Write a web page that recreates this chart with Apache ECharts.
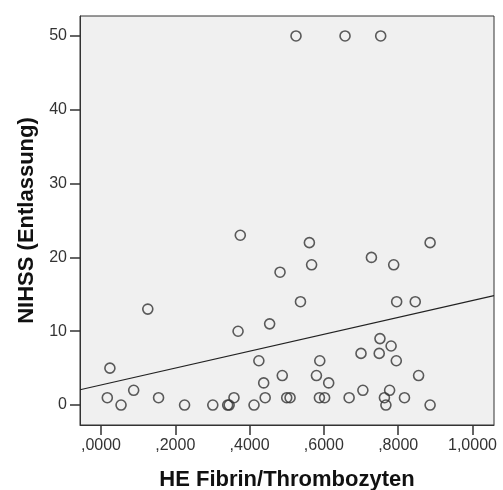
<!DOCTYPE html>
<html>
<head>
<meta charset="utf-8">
<script src="https://cdn.jsdelivr.net/npm/echarts@6/dist/echarts.min.js"></script>
<style>
  html, body { margin: 0; padding: 0; background: #fff; }
  #chart { width: 503px; height: 490px; }
</style>
</head>
<body>
<div id="chart"></div>
<script>
// HE Fibrin/Thrombozyten (x) und NIHSS bei Entlassung (y)
var fibrin = [
  0.525, 0.657, 0.753, 0.375, 0.561, 0.886, 0.728, 0.567, 0.788, 0.482,
  0.537, 0.796, 0.846, 0.126, 0.454, 0.369, 0.751, 0.781, 0.700, 0.749,
  0.425, 0.589, 0.795, 0.024, 0.488, 0.580, 0.855, 0.438, 0.613, 0.088,
  0.705, 0.777, 0.017, 0.155, 0.358, 0.442, 0.500, 0.509, 0.588, 0.602,
  0.668, 0.763, 0.817, 0.054, 0.225, 0.301, 0.341, 0.345, 0.412, 0.767,
  0.886
];
var nihss = [
  50, 50, 50, 23, 22, 22, 20, 19, 19, 18,
  14, 14, 14, 13, 11, 10, 9, 8, 7, 7,
  6, 6, 6, 5, 4, 4, 4, 3, 3, 2,
  2, 2, 1, 1, 1, 1, 1, 1, 1, 1,
  1, 1, 1, 0, 0, 0, 0, 0, 0, 0,
  0
];
// Regressionsgerade
var fitIntercept = 2.72;
var fitSlope = 11.44;

// Achsen
var xMin = -0.0565, xMax = 1.058;
var yMin = -2.7, yMax = 52.7;
var xTicks = [0, 0.2, 0.4, 0.6, 0.8, 1.0];
var xTickLabels = [",0000", ",2000", ",4000", ",6000", ",8000", "1,0000"];
var yTicks = [0, 10, 20, 30, 40, 50];

var points = [];
for (var i = 0; i < fibrin.length; i++) {
  points.push([fibrin[i], nihss[i]]);
}
var fitLine = [
  [xMin, fitIntercept + fitSlope * xMin],
  [xMax, fitIntercept + fitSlope * xMax]
];

var textColor = "#333";
var font = "Liberation Sans, Arial, sans-serif";

var myChart = echarts.init(document.getElementById("chart"), null, { renderer: "canvas" });
var option = {
  animation: false,
  backgroundColor: "#fff",
  grid: {
    left: 80,
    right: 9,
    top: 16,
    bottom: 65,
    show: true,
    backgroundColor: "#f0f0f0",
    borderColor: "#333",
    borderWidth: 1,
    outerBoundsMode: "none"
  },
  xAxis: {
    type: "value",
    min: xMin,
    max: xMax,
    name: "HE Fibrin/Thrombozyten",
    nameLocation: "middle",
    nameGap: 44,
    nameTextStyle: { fontFamily: font, fontSize: 22, fontWeight: "bold", color: "#111" },
    splitLine: { show: false },
    axisLine: { show: true, onZero: false, lineStyle: { color: "#333", width: 1 } },
    axisTick: { show: true, length: 10, customValues: xTicks, lineStyle: { color: "#333", width: 1.5 } },
    axisLabel: {
      customValues: xTicks,
      margin: 13,
      fontFamily: font,
      fontSize: 16,
      color: textColor,
      formatter: function(value) {
        var idx = xTicks.indexOf(value);
        return idx >= 0 ? xTickLabels[idx] : "";
      }
    }
  },
  yAxis: {
    type: "value",
    min: yMin,
    max: yMax,
    name: "NIHSS (Entlassung)",
    nameLocation: "middle",
    nameGap: 42,
    nameTextStyle: { fontFamily: font, fontSize: 22, fontWeight: "bold", color: "#111" },
    splitLine: { show: false },
    axisLine: { show: true, onZero: false, lineStyle: { color: "#333", width: 1 } },
    axisTick: { show: true, length: 10, customValues: yTicks, lineStyle: { color: "#333", width: 1.5 } },
    axisLabel: {
      customValues: yTicks,
      margin: 13,
      fontFamily: font,
      fontSize: 16,
      color: textColor
    }
  },
  series: [
    {
      type: "line",
      data: fitLine,
      symbol: "none",
      silent: true,
      lineStyle: { color: "#222", width: 1.2 },
      z: 2
    },
    {
      type: "scatter",
      data: points,
      symbol: "circle",
      symbolSize: 10,
      silent: true,
      itemStyle: { color: "rgba(0,0,0,0)", borderColor: "#333", borderWidth: 1.6 },
      z: 3
    }
  ]
};
myChart.setOption(option);
</script>
</body>
</html>
